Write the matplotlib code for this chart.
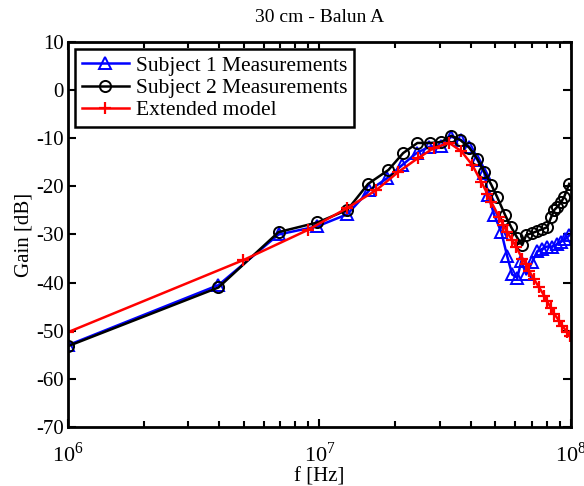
import numpy as np
import matplotlib
matplotlib.use('Agg')
import matplotlib.pyplot as plt

plt.rcParams['font.family'] = 'Liberation Serif'
plt.rcParams['mathtext.fontset'] = 'custom'
plt.rcParams['mathtext.rm'] = 'Liberation Serif'
plt.rcParams['axes.unicode_minus'] = False

# frequencies in MHz, gains in dB
f_subj1 = [1.0, 3.97, 6.88, 9.82, 12.9, 15.8, 18.6, 21.3, 24.3, 27.3, 30.5, 33.4,
           36.6, 39.4, 42.4, 45.2, 46.8, 49.5, 52.8, 55.7, 58.3, 61.1, 63.4, 66.3,
           70.0, 73.3, 76.7, 80.3, 84.1, 88.0, 91.2, 94.7, 98.2]
g_subj1 = [-53.0, -40.5, -30.0, -28.3, -25.8, -20.8, -18.3, -15.6, -13.1, -11.8, -11.6, -9.7,
           -10.4, -11.8, -14.5, -17.2, -21.8, -26.0, -29.5, -34.5, -38.3, -39.0, -35.5, -38.3,
           -35.7, -33.5, -33.0, -32.5, -32.5, -32.0, -31.5, -31.0, -30.2]

f_subj2 = [1.0, 3.97, 6.88, 9.82, 12.9, 15.6, 18.8, 21.5, 24.5, 27.6, 30.5, 33.4,
           36.3, 39.4, 42.4, 45.2, 48.2, 50.8, 54.7, 57.8, 61.1, 63.9, 66.3, 70.0,
           73.3, 76.7, 80.3, 83.3, 85.7, 88.0, 91.2, 93.8, 98.2]
g_subj2 = [-53.2, -41.0, -29.5, -27.5, -24.9, -19.5, -16.6, -13.1, -11.0, -11.0, -10.8, -9.5,
           -10.4, -12.0, -14.3, -17.0, -19.7, -22.2, -26.0, -28.5, -30.7, -32.2, -30.1, -29.7,
           -29.3, -28.9, -28.5, -26.4, -24.9, -24.3, -23.3, -22.2, -19.5]

f_model = [1.0, 4.99, 9.04, 12.9, 16.8, 20.6, 24.7, 28.6, 32.8, 36.6, 40.5, 44.0,
           46.4, 48.2, 51.8, 53.7, 55.7, 58.3, 60.5, 63.9, 66.3, 68.1, 71.3, 74.6,
           78.2, 80.3, 83.3, 85.7, 89.6, 92.1, 96.4, 99.1]
g_model = [-50.3, -35.3, -29.0, -24.5, -20.8, -17.0, -14.1, -12.0, -11.0, -12.7, -15.6, -19.1,
           -21.5, -23.3, -26.4, -28.0, -29.5, -31.2, -32.6, -35.0, -36.2, -37.6, -39.3, -41.0,
           -42.7, -43.9, -45.3, -46.5, -47.9, -48.9, -50.3, -51.1]

fig = plt.figure(figsize=(5.84, 4.86), dpi=100)
ax = fig.add_axes([0.116, 0.121, 0.862, 0.793])

ax.semilogx(np.array(f_subj1) * 1e6, g_subj1, '-^', color='blue', lw=1.8,
            markersize=8, markerfacecolor='none', markeredgewidth=1.4,
            label='Subject 1 Measurements')
ax.semilogx(np.array(f_subj2) * 1e6, g_subj2, '-o', color='black', lw=1.8,
            markersize=8, markerfacecolor='none', markeredgewidth=1.4,
            label='Subject 2 Measurements')
ax.semilogx(np.array(f_model) * 1e6, g_model, '-+', color='red', lw=1.8,
            markersize=8, markeredgewidth=1.6, label='Extended model')

ax.set_xlim(1e6, 1e8)
ax.set_ylim(-70, 10)
ax.set_yticks(np.arange(-70, 11, 10))
ax.set_xticks([1e6, 1e7, 1e8])
ax.set_xticklabels([r'$10^6$', r'$10^7$', r'$10^8$'])

for s in ax.spines.values():
    s.set_linewidth(2)
ax.tick_params(which='both', direction='in', top=True, right=True, labelsize=15,
               width=1.5)
ax.tick_params(which='major', length=6)
ax.tick_params(which='minor', length=4)
ax.tick_params(axis='x', pad=11, labelsize=16)
ax.tick_params(axis='y', pad=3)

ax.set_xlabel('f [Hz]', fontsize=15, labelpad=0)
ax.set_ylabel('Gain [dB]', fontsize=15, labelpad=2)
ax.set_title('30 cm - Balun A', fontsize=14, pad=14)

leg = ax.legend(loc='upper left', fontsize=15.5, fancybox=False, framealpha=1,
                edgecolor='black', borderpad=0.3, labelspacing=0.1,
                handlelength=2.2, handletextpad=0.3, borderaxespad=0.35)
leg.get_frame().set_linewidth(1.8)

fig.savefig('out.png', dpi=100)
